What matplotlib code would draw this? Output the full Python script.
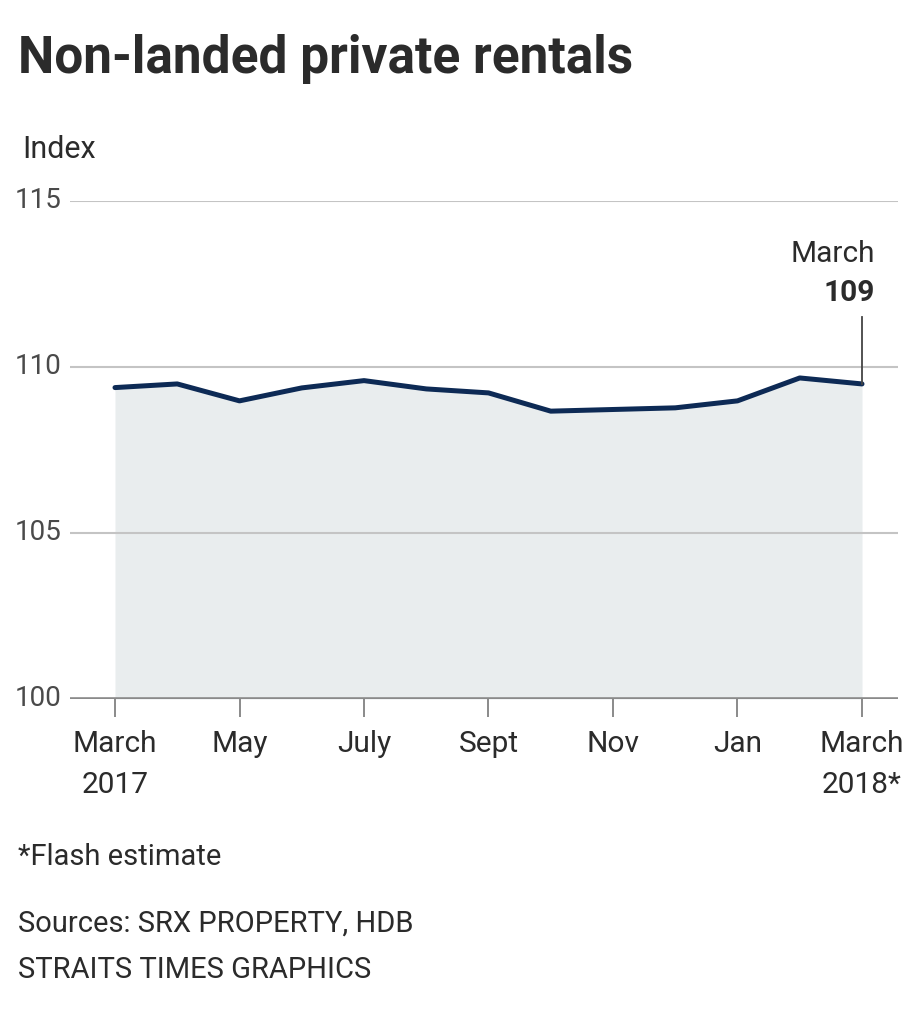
import matplotlib
matplotlib.use("Agg")
import matplotlib.pyplot as plt
import numpy as np

# monthly index, March 2017 .. March 2018 (last is a flash estimate)
months = ["Mar17", "Apr17", "May17", "Jun17", "Jul17", "Aug17", "Sep17",
          "Oct17", "Nov17", "Dec17", "Jan18", "Feb18", "Mar18"]
index_values = [109.38, 109.49, 108.98, 109.37, 109.59, 109.34, 109.22,
                108.67, 108.72, 108.77, 108.98, 109.67, 109.49]
tick_pos = [0, 2, 4, 6, 8, 10, 12]
tick_labels = ["March\n2017", "May", "July", "Sept", "Nov", "Jan", "March\n2018*"]
y_ticks = [100, 105, 110, 115]

plt.rcParams['font.family'] = ['Roboto', 'DejaVu Sans']
TEXT = '#2b2b2b'
NAVY = '#0d2a55'
FILL = '#e9edee'

fig = plt.figure(figsize=(9.2, 10.24), dpi=100)
ax = fig.add_axes([70 / 920, 1 - 699 / 1024, (898 - 70) / 920, (699 - 201) / 1024])

x = np.arange(len(index_values))
ax.fill_between(x, 100, index_values, color=FILL, lw=0, zorder=1)
ax.plot(x, index_values, color=NAVY, lw=3.6, solid_capstyle='round',
        solid_joinstyle='round', zorder=3)

ax.set_xlim((70 - 115) / 62.25, (898 - 115) / 62.25)
ax.set_ylim(100, 115)

for yv in y_ticks[1:]:
    ax.axhline(yv, color='#c4c4c4', lw=1.5, zorder=2)
ax.axhline(100, color='#8a8a8a', lw=2.6, zorder=4)

for s in ax.spines.values():
    s.set_visible(False)
ax.set_yticks(y_ticks)
ax.set_yticklabels([str(v) for v in y_ticks], fontsize=20, color='#4a4a4a')
ax.tick_params(axis='y', length=0, pad=6)
ax.set_xticks(tick_pos)
ax.set_xticklabels(tick_labels, fontsize=21.5, color=TEXT, linespacing=1.6)
ax.tick_params(axis='x', length=13, width=1.4, color='#8a8a8a', pad=9)
for lbl in ax.get_yticklabels():
    lbl.set_verticalalignment('center')

# end annotation
last = len(index_values) - 1
line_top = 111.5
ax.plot([last, last], [index_values[last], line_top], color='#444444', lw=1.3, zorder=5)
ax.annotate("March", xy=(last, line_top), xytext=(9.5, 40), textcoords='offset points',
            ha='right', va='baseline', fontsize=21.5, color=TEXT)
ax.annotate(str(int(index_values[last])), xy=(last, line_top), xytext=(9.5, 11.5),
            textcoords='offset points', ha='right', va='baseline', fontsize=21.5,
            fontweight='bold', color=TEXT)

fig.text(18 / 920, 1 - 73 / 1024, "Non-landed private rentals", fontsize=37,
         fontweight='bold', color=TEXT, va='baseline', ha='left')
fig.text(22 / 920, 1 - 150 / 1024, "Index", fontsize=22, color=TEXT, va='center')
fig.text(18 / 920, 1 - 857 / 1024, "*Flash estimate", fontsize=21, color=TEXT, va='center')
fig.text(18 / 920, 1 - 924 / 1024, "Sources: SRX PROPERTY, HDB", fontsize=21,
         color=TEXT, va='center')
fig.text(18 / 920, 1 - 970 / 1024, "STRAITS TIMES GRAPHICS", fontsize=21,
         color=TEXT, va='center')

fig.savefig("out.png", dpi=100, facecolor='white')
